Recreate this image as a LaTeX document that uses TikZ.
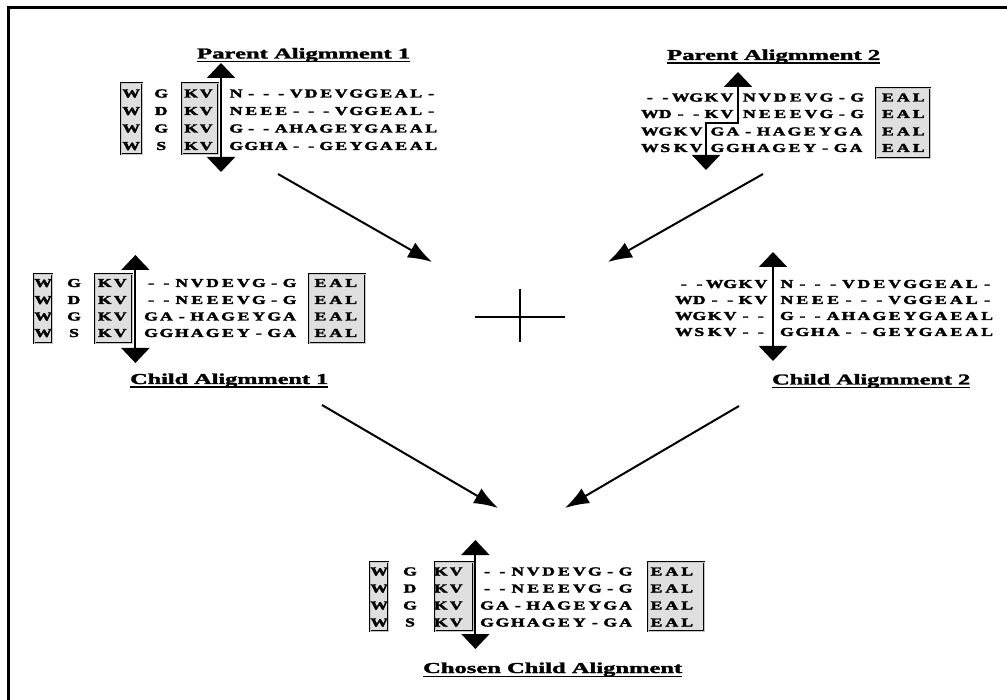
\documentclass[tikz,border=0pt]{standalone}
\usepackage{graphicx}
\usepackage{fontspec}
\setmainfont{Liberation Serif}
\newfontfamily\seqfont{Liberation Serif}[BoldFeatures={FakeBold=2.2}]
\newfontfamily\ttlfont{Liberation Serif}[BoldFeatures={FakeBold=1.6}]
\usetikzlibrary{arrows.meta}
\newlength\cellw
\setlength\cellw{15.4pt}
\def\seqloop#1{\ifx#1\relax\else\ifx#1.\makebox[\cellw]{}\else\makebox[\cellw][c]{\scalebox{1.45}[1]{#1}}\fi\expandafter\seqloop\fi}
\newcommand\seqs[2][15.4pt]{\setlength\cellw{#1}\seqloop#2\relax}
\tikzset{
  seqtxt/.style={inner sep=0pt, anchor=base west, font=\seqfont\fontsize{12.2}{12}\selectfont\bfseries},
  resbox/.style={draw=black, line width=0.6pt, double=gray!45, double distance=0.7pt, fill=gray!25, inner sep=0pt},
  dbl/.style={line width=2pt, {Triangle[width=28pt,length=15pt]}-{Triangle[width=28pt,length=15pt]}},
  flow/.style={line width=2pt, -{Latex[length=24pt,width=17pt]}},
  ttl/.style={inner sep=0pt, anchor=base west, font=\ttlfont\bfseries},
  uline/.style={line width=1.4pt},
}
\begin{document}
\begin{tikzpicture}[x=1pt,y=-1pt]
\useasboundingbox (0,0) rectangle (1007,700);
% frame
\draw[line width=3pt] (8.5,700) -- (8.5,7.5) -- (1007,7.5);

% ---------- Parent 1 ----------
\node[ttl] (t1) at (197,58.5) {\resizebox{213pt}{10.5pt}{Parent Aligmment 1}};
\draw[uline] ([shift={(0,3)}]t1.base west) -- ([shift={(0,3)}]t1.base east);
\node[resbox, minimum width=21pt, minimum height=71pt] (p1bw) at (131.5,118.5) {};
\node[resbox, minimum width=36pt, minimum height=71pt] (p1bk) at (200,118.5) {};
\node[seqtxt] (p1r1) at (123.5,97.5) {\seqs[15pt]{W.G.KV.N---VDEVGGEAL-}};
\node[seqtxt] (p1r2) at (123.5,115) {\seqs[15pt]{W.D.KV.NEEE---VGGEAL-}};
\node[seqtxt] (p1r3) at (123.5,132.5) {\seqs[15pt]{W.G.KV.G--AHAGEYGAEAL}};
\node[seqtxt] (p1r4) at (123.5,150) {\seqs[15pt]{W.S.KV.GGHA--GEYGAEAL}};
\coordinate (p1up) at (221,63);
\coordinate (p1dn) at (221,172);
\draw[dbl] (p1up) -- (p1dn);

% ---------- Parent 2 ----------
\node[ttl] (t2) at (667,60) {\resizebox{213pt}{10.5pt}{Parent Aligmment 2}};
\draw[uline] ([shift={(0,3)}]t2.base west) -- ([shift={(0,3)}]t2.base east);
\node[resbox, minimum width=54pt, minimum height=70pt] (p2be) at (903,123) {};
\node[seqtxt] (p2a1) at (642,101.5) {\seqs{--WGKV}};
\node[seqtxt] (p2b1) at (741.5,101.5) {\seqs{NVDEVG-G}};
\node[seqtxt] (p2a2) at (642,118) {\seqs{WD--KV}};
\node[seqtxt] (p2b2) at (741.5,118) {\seqs{NEEEVG-G}};
\node[seqtxt] (p2a3) at (642,135.5) {\seqs{WGKV}};
\node[seqtxt] (p2b3) at (709.5,135.5) {\seqs{GA-HAGEYGA}};
\node[seqtxt] (p2a4) at (642,152) {\seqs{WSKV}};
\node[seqtxt] (p2b4) at (709.5,152) {\seqs{GGHAGEY-GA}};
\foreach \r/\yy in {1/101.5,2/118,3/135.5,4/152}
  \node[seqtxt] (p2e\r) at (880,\yy) {\seqs{EAL}};
\coordinate (p2up) at (738,72);
\coordinate (p2j1) at (738,123);
\coordinate (p2j2) at (706,123);
\coordinate (p2dn) at (706,170);
\draw[dbl] (p2up) -- (p2j1) -- (p2j2) -- (p2dn);

% ---------- Child 1 ----------
\node[resbox, minimum width=18pt, minimum height=69pt] (c1bw) at (43,308.5) {};
\node[resbox, minimum width=37pt, minimum height=69pt] (c1bk) at (113.5,308.5) {};
\node[resbox, minimum width=56pt, minimum height=69pt] (c1be) at (337,308.5) {};
\node[seqtxt] (c1r1) at (35.3,287) {\seqs{W.G.KV.--NVDEVG-G.EAL}};
\node[seqtxt] (c1r2) at (35.3,304) {\seqs{W.D.KV.--NEEEVG-G.EAL}};
\node[seqtxt] (c1r3) at (35.3,320.5) {\seqs{W.G.KV.GA-HAGEYGA.EAL}};
\node[seqtxt] (c1r4) at (35.3,337) {\seqs{W.S.KV.GGHAGEY-GA.EAL}};
\coordinate (c1up) at (135.4,255);
\coordinate (c1dn) at (135.4,363);
\draw[dbl] (c1up) -- (c1dn);
\node[ttl] (t3) at (130,384) {\resizebox{198pt}{10.5pt}{Child Aligmment 1}};
\draw[uline] ([shift={(0,3)}]t3.base west) -- ([shift={(0,3)}]t3.base east);

% ---------- Child 2 ----------
\node[seqtxt] (c2a1) at (676,288) {\seqs{--WGKV}};
\node[seqtxt] (c2b1) at (779,288) {\seqs{N---VDEVGGEAL-}};
\node[seqtxt] (c2a2) at (676,304) {\seqs{WD--KV}};
\node[seqtxt] (c2b2) at (779,304) {\seqs{NEEE---VGGEAL-}};
\node[seqtxt] (c2a3) at (676,320) {\seqs{WGKV--}};
\node[seqtxt] (c2b3) at (779,320) {\seqs{G--AHAGEYGAEAL}};
\node[seqtxt] (c2a4) at (676,336) {\seqs{WSKV--}};
\node[seqtxt] (c2b4) at (779,336) {\seqs{GGHA--GEYGAEAL}};
\coordinate (c2up) at (773,252);
\coordinate (c2dn) at (773,361);
\draw[dbl] (c2up) -- (c2dn);
\node[ttl] (t4) at (772,384.5) {\resizebox{198pt}{10.5pt}{Child Aligmment 2}};
\draw[uline] ([shift={(0,3)}]t4.base west) -- ([shift={(0,3)}]t4.base east);

% ---------- cross ----------
\coordinate (xh1) at (475,317);
\coordinate (xh2) at (565,317);
\coordinate (xv1) at (520,289);
\coordinate (xv2) at (520,342);
\draw[line width=1.2pt] (xh1) -- (xh2);
\draw[line width=2pt] (xv1) -- (xv2);

% ---------- Chosen ----------
\node[resbox, minimum width=18pt, minimum height=69pt] (chbw) at (379,596.5) {};
\node[resbox, minimum width=38pt, minimum height=69pt] (chbk) at (454,596.5) {};
\node[resbox, minimum width=56pt, minimum height=69pt] (chbe) at (676,596.5) {};
\node[seqtxt] (chr1) at (371.3,575.5) {\seqs{W.G.KV.--NVDEVG-G.EAL}};
\node[seqtxt] (chr2) at (371.3,592.5) {\seqs{W.D.KV.--NEEEVG-G.EAL}};
\node[seqtxt] (chr3) at (371.3,609.5) {\seqs{W.G.KV.GA-HAGEYGA.EAL}};
\node[seqtxt] (chr4) at (371.3,626.5) {\seqs{W.S.KV.GGHAGEY-GA.EAL}};
\coordinate (chup) at (475.4,540);
\coordinate (chdn) at (475.4,649);
\draw[dbl] (chup) -- (chdn);
\node[ttl] (t5) at (423,673) {\resizebox{259pt}{10.5pt}{Chosen Child Alignment}};
\draw[uline] ([shift={(0,3.5)}]t5.base west) -- ([shift={(0,3.5)}]t5.base east);

% ---------- flow arrows ----------
\coordinate (a1s) at (278,174);
\coordinate (a1e) at (432,262);
\coordinate (a2s) at (763,174);
\coordinate (a2e) at (608,262);
\coordinate (a3s) at (322,405);
\coordinate (a3e) at (498,508);
\coordinate (a4s) at (739,406);
\coordinate (a4e) at (565,508);
\draw[flow] (a1s) -- (a1e);
\draw[flow] (a2s) -- (a2e);
\draw[flow] (a3s) -- (a3e);
\draw[flow] (a4s) -- (a4e);
\end{tikzpicture}
\end{document}
